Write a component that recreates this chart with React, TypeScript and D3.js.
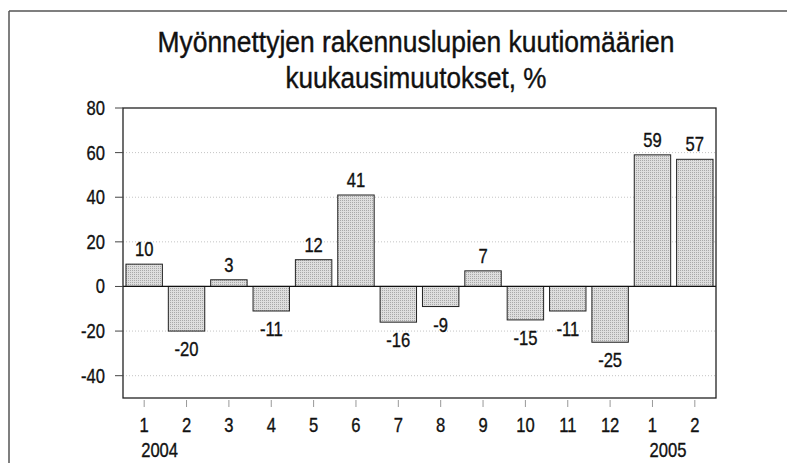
import React from "react";
import * as d3 from "d3";

const months = ["1", "2", "3", "4", "5", "6", "7", "8", "9", "10", "11", "12", "1", "2"];
const values = [10, -20, 3, -11, 12, 41, -16, -9, 7, -15, -11, -25, 59, 57];
const years = [
    { label: "2004", index: 0 },
    { label: "2005", index: 12 },
];
const yTicks = [-40, -20, 0, 20, 40, 60, 80];
const titleLines = [
    { text: "Myönnettyjen rakennuslupien kuutiomäärien", length: 517 },
    { text: "kuukausimuutokset, %", length: 261 },
];

const width = 787;
const height = 463;
const margin = { top: 108, right: 71, bottom: 65, left: 123 };
const font = "'Liberation Sans', Arial, sans-serif";

// narrow text: Arial squeezed horizontally, like Arial Narrow
function NText({ x, y, anchor = "middle", size = 20, children }) {
    return (
        <text
            transform={`translate(${x},${y}) scale(0.83,1)`}
            textAnchor={anchor}
            fontFamily={font}
            fontSize={size}
            fill="#111"
            stroke="#111"
            strokeWidth={0.35}
        >
            {children}
        </text>
    );
}

function App() {
    const x = d3
        .scaleBand<number>()
        .domain(d3.range(values.length))
        .range([margin.left, width - margin.right])
        .paddingInner(0.14)
        .paddingOuter(0.07);

    const y = d3
        .scaleLinear()
        .domain([-50, 80])
        .range([height - margin.bottom, margin.top]);

    const left = margin.left;
    const right = width - margin.right;
    const top = y(80);
    const bottom = y(-50);
    const center = (i: number) => (x(i) as number) + x.bandwidth() / 2;

    return (
        <svg width={width} height={height} style={{ position: "absolute", left: 0, top: 0, background: "#fff" }}>
            <defs>
                <pattern id="stipple" width="2" height="2" patternUnits="userSpaceOnUse">
                    <rect width="2" height="2" fill="#dedede" />
                    <rect width="1" height="1" fill="#a8a8a8" />
                </pattern>
            </defs>

            {/* outer frame */}
            <line x1={9} y1={11} x2={width} y2={11} stroke="#555" strokeWidth={1.5} />
            <line x1={9} y1={11} x2={9} y2={height} stroke="#555" strokeWidth={1.5} />

            {titleLines.map((t, i) => (
                <text
                    key={i}
                    x={416}
                    y={52 + i * 36}
                    textAnchor="middle"
                    fontFamily={font}
                    fontSize={30}
                    textLength={t.length}
                    lengthAdjust="spacingAndGlyphs"
                    fill="#111"
                    stroke="#111"
                    strokeWidth={0.4}
                >
                    {t.text}
                </text>
            ))}

            {/* grid */}
            {yTicks.filter(t => t !== 0 && t !== 80).map(t => (
                <line key={t} x1={left} x2={right} y1={y(t)} y2={y(t)} stroke="#c4c4c4" strokeDasharray="1,2" />
            ))}

            {/* bars */}
            {values.map((v, i) => (
                <rect
                    key={i}
                    x={x(i)}
                    y={y(Math.max(0, v))}
                    width={x.bandwidth()}
                    height={Math.abs(y(v) - y(0))}
                    fill="url(#stipple)"
                    stroke="#222"
                    strokeWidth={1}
                />
            ))}

            <line x1={left} x2={right} y1={y(0)} y2={y(0)} stroke="#111" strokeWidth={1.2} />
            <rect x={left} y={top} width={right - left} height={bottom - top} fill="none" stroke="#222" strokeWidth={1.3} />

            {/* value labels */}
            {values.map((v, i) => (
                <NText key={i} x={center(i)} y={v >= 0 ? y(v) - 8 : y(v) + 25}>
                    {v}
                </NText>
            ))}

            {/* y axis */}
            {yTicks.map(t => (
                <g key={t}>
                    <line x1={left - 8} x2={left} y1={y(t)} y2={y(t)} stroke="#444" />
                    <NText x={left - 18} y={y(t) + 7} anchor="end">
                        {t}
                    </NText>
                </g>
            ))}

            {/* x axis */}
            {months.map((m, i) => (
                <g key={i}>
                    <line x1={center(i)} x2={center(i)} y1={bottom + 2} y2={bottom + 9} stroke="#999" />
                    <NText x={center(i)} y={432}>{m}</NText>
                </g>
            ))}
            {years.map(yr => (
                <NText key={yr.label} x={center(yr.index) - 3} y={457} anchor="start">
                    {yr.label}
                </NText>
            ))}
        </svg>
    );
}

export default App;
